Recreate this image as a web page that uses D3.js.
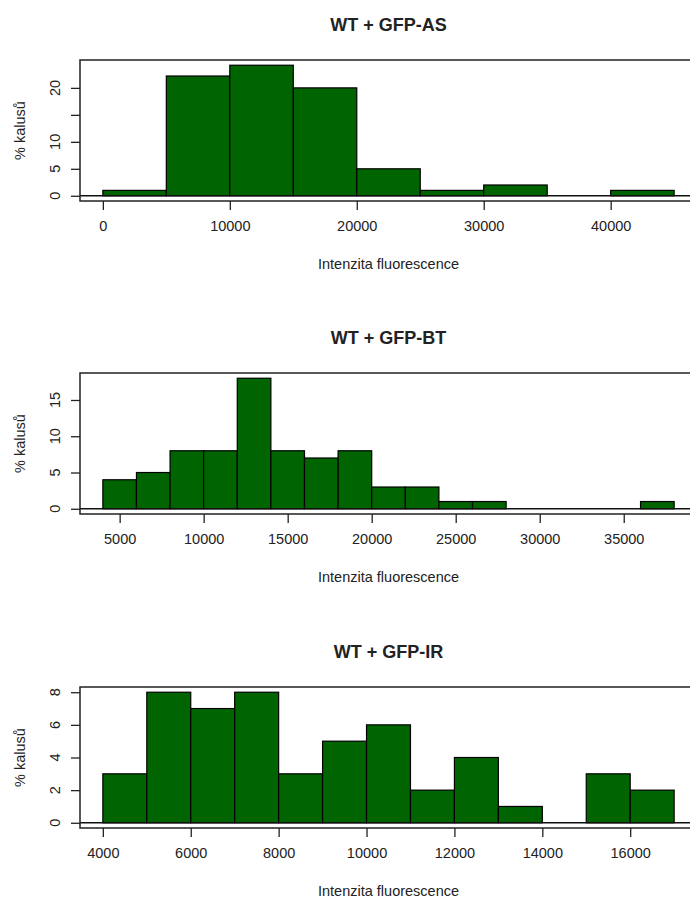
<!DOCTYPE html>
<html>
<head>
<meta charset="utf-8">
<script src="https://cdn.jsdelivr.net/npm/d3@7"></script>
<style>
  body { margin: 0; background: #fff; }
  svg text { font-family: "Liberation Sans", Arial, sans-serif; fill: #222; }
</style>
</head>
<body>
<div id="chart"></div>
<script>
// --- data ---
const titles = ["WT + GFP-AS", "WT + GFP-BT", "WT + GFP-IR"];
const xLabel = "Intenzita fluorescence";
const yLabel = "% kalusů";

// bin edges and heights, one pair per panel
const asEdges = [0, 5000, 10000, 15000, 20000, 25000, 30000, 35000, 40000, 45000];
const asValues = [1, 22.2, 24.2, 20, 5, 1, 2, 0, 1];
const btEdges = [4000, 6000, 8000, 10000, 12000, 14000, 16000, 18000, 20000, 22000,
                 24000, 26000, 28000, 30000, 32000, 34000, 36000, 38000];
const btValues = [4, 5, 8, 8, 18, 8, 7, 8, 3, 3, 1, 1, 0, 0, 0, 0, 1];
const irEdges = [4000, 5000, 6000, 7000, 8000, 9000, 10000, 11000, 12000, 13000, 14000, 15000, 16000, 17000];
const irValues = [3, 8, 7, 8, 3, 5, 6, 2, 4, 1, 0, 3, 2];

// tick values
const asXTicks = [0, 10000, 20000, 30000, 40000];
const asYTicks = [0, 5, 10, 15, 20];
const asYLabels = [0, 5, 10, 20]; // 15 is dropped in the original (overlap)
const btXTicks = [5000, 10000, 15000, 20000, 25000, 30000, 35000];
const btYTicks = [0, 5, 10, 15];
const btYLabels = [0, 5, 10, 15];
const irXTicks = [4000, 6000, 8000, 10000, 12000, 14000, 16000];
const irYTicks = [0, 2, 4, 6, 8];
const irYLabels = [0, 2, 4, 6, 8];

const panels = [
  { title: titles[0], edges: asEdges, values: asValues, xTicks: asXTicks, yTicks: asYTicks, yLabels: asYLabels },
  { title: titles[1], edges: btEdges, values: btValues, xTicks: btXTicks, yTicks: btYTicks, yLabels: btYLabels },
  { title: titles[2], edges: irEdges, values: irValues, xTicks: irXTicks, yTicks: irYTicks, yLabels: irYLabels }
];

// --- layout ---
const W = 690, H = 899;
const plotLeft = 80, plotRight = 697;
const plotTops = [60, 373, 687];
const plotH = 141;
const tickLen = 9;

const svg = d3.select("#chart").append("svg")
  .attr("width", W)
  .attr("height", H);

panels.forEach((p, i) => {
  const top = plotTops[i];
  const bottom = top + plotH;

  // R style: extend the data range by 4% on each side
  const xMin = d3.min(p.edges), xMax = d3.max(p.edges);
  const xPad = (xMax - xMin) * 0.04;
  const x = d3.scaleLinear().domain([xMin - xPad, xMax + xPad]).range([plotLeft, plotRight]);

  const yMax = d3.max(p.values);
  const y = d3.scaleLinear().domain([-yMax * 0.04, yMax * 1.04]).range([bottom, top]);

  const g = svg.append("g");

  // bars
  g.selectAll("rect.bar")
    .data(p.values)
    .join("rect")
    .attr("class", "bar")
    .attr("x", (d, j) => x(p.edges[j]))
    .attr("width", (d, j) => x(p.edges[j + 1]) - x(p.edges[j]))
    .attr("y", d => y(d))
    .attr("height", d => y(0) - y(d))
    .attr("fill", "#006400")
    .attr("stroke", "#000")
    .attr("stroke-width", 1.2);

  // zero line
  g.append("line")
    .attr("x1", plotLeft).attr("x2", plotRight)
    .attr("y1", y(0)).attr("y2", y(0))
    .attr("stroke", "#111")
    .attr("stroke-width", 1.4);

  // box
  g.append("rect")
    .attr("x", plotLeft).attr("y", top)
    .attr("width", plotRight - plotLeft).attr("height", plotH)
    .attr("fill", "none")
    .attr("stroke", "#222")
    .attr("stroke-width", 1.5);

  // x axis
  const xAxis = g.append("g")
    .attr("transform", `translate(0,${bottom})`)
    .call(d3.axisBottom(x).tickValues(p.xTicks).tickSize(tickLen).tickPadding(11).tickFormat(d3.format("d")));
  xAxis.select(".domain").remove();
  xAxis.selectAll("line").attr("stroke", "#222").attr("stroke-width", 1.3);
  xAxis.selectAll("text")
    .style("font-size", "14.5px")
    .attr("fill", "#222");

  // y axis
  const yAxis = g.append("g")
    .attr("transform", `translate(${plotLeft},0)`)
    .call(d3.axisLeft(y).tickValues(p.yTicks).tickSize(tickLen).tickFormat(""));
  yAxis.select(".domain").remove();
  yAxis.selectAll("line").attr("stroke", "#222").attr("stroke-width", 1.3);

  // rotated y tick labels
  g.selectAll("text.ylab")
    .data(p.yLabels)
    .join("text")
    .attr("class", "ylab")
    .attr("transform", d => `translate(${plotLeft - 20},${y(d)}) rotate(-90)`)
    .attr("text-anchor", "middle")
    .style("font-size", "14.5px")
    .text(d => d);

  // axis titles
  g.append("text")
    .attr("x", (plotLeft + plotRight) / 2)
    .attr("y", bottom + 68)
    .attr("text-anchor", "middle")
    .style("font-size", "14.5px")
    .text(xLabel);

  g.append("text")
    .attr("transform", `translate(25,${(top + bottom) / 2}) rotate(-90)`)
    .attr("text-anchor", "middle")
    .style("font-size", "14.5px")
    .text(yLabel);

  // panel title
  g.append("text")
    .attr("x", (plotLeft + plotRight) / 2)
    .attr("y", top - 29)
    .attr("text-anchor", "middle")
    .style("font-size", "18px")
    .style("font-weight", "bold")
    .text(p.title);
});
</script>
</body>
</html>
